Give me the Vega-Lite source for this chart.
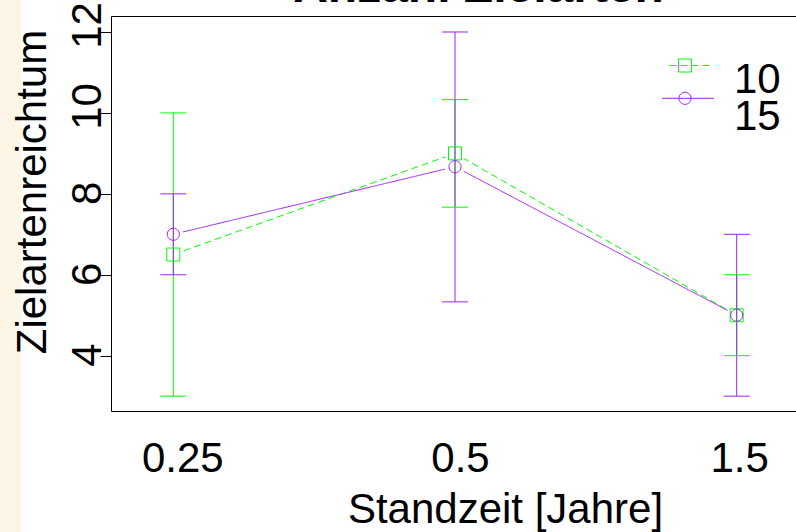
{
  "$schema": "https://vega.github.io/schema/vega-lite/v6.json",
  "width": 796,
  "height": 532,
  "autosize": {"type": "none"},
  "padding": 0,
  "background": "white",
  "data": {"values": [
    {"t": "0.25", "grp": "10", "mean": 6.5, "lo": 3, "hi": 10},
    {"t": "0.5", "grp": "10", "mean": 9, "lo": 7.67, "hi": 10.33},
    {"t": "1.5", "grp": "10", "mean": 5, "lo": 4, "hi": 6},
    {"t": "0.25", "grp": "15", "mean": 7, "lo": 6, "hi": 8},
    {"t": "0.5", "grp": "15", "mean": 8.67, "lo": 5.33, "hi": 12},
    {"t": "1.5", "grp": "15", "mean": 5, "lo": 3, "hi": 7}
  ]},
  "layer": [
    {
      "layer": [
        {
          "mark": {"type": "line", "strokeWidth": 1},
          "encoding": {
            "x": {"field": "t", "type": "ordinal", "scale": {"type": "point", "domain": ["0.25", "0.5", "1.5"], "range": [111, 799], "padding": 0.2212},
              "axis": {"orient": "bottom", "offset": -121, "title": "Standzeit [Jahre]", "titleFont": "Liberation Sans", "titleFontSize": 42, "titleFontWeight": "normal", "titleColor": "black", "titleX": 505, "titleY": 111, "titleAlign": "center", "titleBaseline": "alphabetic", "titleAngle": 0,
                "labelFont": "Liberation Sans", "labelFontSize": 42, "labelColor": "black", "labelAngle": 0, "labelAlign": "center", "labelBaseline": "alphabetic", "labelPadding": 60, "ticks": false, "tickSize": 0, "domainColor": "black", "domainWidth": 1, "grid": false, "labelOverlap": false,
                "encoding": {"labels": {"dx": {"value": {"expr": "datum.label == '0.25' ? 9 : datum.label == '0.5' ? 5 : 2.5"}}}}}},
            "y": {"field": "mean", "type": "quantitative", "title": "Zielartenreichtum", "scale": {"domain": [2.633, 12.395], "range": [411, 16], "nice": false, "zero": false},
              "axis": {"orient": "left", "offset": -111, "values": [4, 6, 8, 10, 12], "format": "d", "titleFont": "Liberation Sans", "titleFontSize": 42, "titleFontWeight": "normal", "titleColor": "black", "titleX": -66, "titleY": 191.5, "titleAngle": 270, "titleAlign": "center", "titleBaseline": "alphabetic",
                "labelFont": "Liberation Sans", "labelFontSize": 42, "labelColor": "black", "labelAngle": 270, "labelAlign": "center", "labelBaseline": "alphabetic", "labelPadding": 0, "tickSize": 11, "tickColor": "black", "tickWidth": 1, "domainColor": "black", "domainWidth": 1, "grid": false, "labelOverlap": false, "labelFlush": false,
                "encoding": {"labels": {"dx": {"value": {"expr": "length(datum.label) > 1 ? 7 : 1"}}}}}},
            "color": {"field": "grp", "type": "nominal", "scale": {"domain": ["10", "15"], "range": ["#00ff00", "#a020f0"]}, "legend": null},
            "strokeDash": {"field": "grp", "type": "nominal", "scale": {"domain": ["10", "15"], "range": [[7, 4], [1, 0]]}, "legend": null}
          }
        },
        {
          "mark": {"type": "point", "shape": "circle", "filled": true, "fill": "white", "strokeWidth": 0, "size": 420, "opacity": 1},
          "encoding": {
            "x": {"field": "t", "type": "ordinal", "scale": {"type": "point", "domain": ["0.25", "0.5", "1.5"], "range": [111, 799], "padding": 0.2212}},
            "y": {"field": "mean", "type": "quantitative", "title": "Zielartenreichtum", "scale": {"domain": [2.633, 12.395], "range": [411, 16], "nice": false, "zero": false}}
          }
        },
        {
          "mark": {"type": "rule", "strokeWidth": 1},
          "encoding": {
            "x": {"field": "t", "type": "ordinal", "scale": {"type": "point", "domain": ["0.25", "0.5", "1.5"], "range": [111, 799], "padding": 0.2212}},
            "y": {"field": "lo", "type": "quantitative", "title": "Zielartenreichtum", "scale": {"domain": [2.633, 12.395], "range": [411, 16], "nice": false, "zero": false}},
            "y2": {"field": "hi"},
            "color": {"field": "grp", "type": "nominal", "scale": {"domain": ["10", "15"], "range": ["#00ff00", "#a020f0"]}, "legend": null}
          }
        },
        {
          "mark": {"type": "tick", "size": 26, "thickness": 1, "opacity": 1},
          "encoding": {
            "x": {"field": "t", "type": "ordinal", "scale": {"type": "point", "domain": ["0.25", "0.5", "1.5"], "range": [111, 799], "padding": 0.2212}},
            "y": {"field": "lo", "type": "quantitative", "title": "Zielartenreichtum", "scale": {"domain": [2.633, 12.395], "range": [411, 16], "nice": false, "zero": false}},
            "color": {"field": "grp", "type": "nominal", "scale": {"domain": ["10", "15"], "range": ["#00ff00", "#a020f0"]}, "legend": null}
          }
        },
        {
          "mark": {"type": "tick", "size": 26, "thickness": 1, "opacity": 1},
          "encoding": {
            "x": {"field": "t", "type": "ordinal", "scale": {"type": "point", "domain": ["0.25", "0.5", "1.5"], "range": [111, 799], "padding": 0.2212}},
            "y": {"field": "hi", "type": "quantitative", "title": "Zielartenreichtum", "scale": {"domain": [2.633, 12.395], "range": [411, 16], "nice": false, "zero": false}},
            "color": {"field": "grp", "type": "nominal", "scale": {"domain": ["10", "15"], "range": ["#00ff00", "#a020f0"]}, "legend": null}
          }
        },
        {
          "mark": {"type": "point", "filled": false, "strokeWidth": 1, "size": 169, "opacity": 1},
          "encoding": {
            "x": {"field": "t", "type": "ordinal", "scale": {"type": "point", "domain": ["0.25", "0.5", "1.5"], "range": [111, 799], "padding": 0.2212}},
            "y": {"field": "mean", "type": "quantitative", "title": "Zielartenreichtum", "scale": {"domain": [2.633, 12.395], "range": [411, 16], "nice": false, "zero": false}},
            "color": {"field": "grp", "type": "nominal", "scale": {"domain": ["10", "15"], "range": ["#00ff00", "#a020f0"]}, "legend": null},
            "shape": {"field": "grp", "type": "nominal", "scale": {"domain": ["10", "15"], "range": ["M-1,-1H1V1H-1Z", "M-0.93,0A0.93,0.93 0 1,0 0.93,0A0.93,0.93 0 1,0 -0.93,0Z"]}, "legend": null}
          }
        }
      ]
    },
    {
      "transform": [{"filter": "false"}],
      "mark": {"type": "point", "filled": false, "strokeWidth": 1, "size": 169, "opacity": 1},
      "encoding": {
        "x": {"field": "t", "type": "ordinal", "scale": {"type": "point", "domain": ["0.25", "0.5", "1.5"], "range": [111, 799], "padding": 0.2212},
          "axis": {"orient": "top", "offset": -16, "labels": false, "ticks": false, "domainColor": "black", "domainWidth": 1, "grid": false,
            "title": "Anzahl Zielarten", "titleFont": "Liberation Sans", "titleFontSize": 48, "titleFontWeight": "bold", "titleColor": "black", "titleX": 478, "titleY": -15, "titleAlign": "center", "titleBaseline": "alphabetic", "titleAngle": 0}},
        "color": {"field": "grp", "type": "nominal", "scale": {"domain": ["10"], "range": ["#00ff00"]},
          "legend": {"title": null, "orient": "none", "legendX": 664, "legendY": 59.4, "padding": 0, "symbolSize": 169, "symbolStrokeWidth": 1, "labelFont": "Liberation Sans", "labelFontSize": 42, "labelColor": "black", "labelOffset": 28, "labelBaseline": "middle"}},
        "shape": {"field": "grp", "type": "nominal", "scale": {"domain": ["10"], "range": ["M-2.38,-2.29H-1.31M-0.69,-2.29H0.38M1,-2.29H2.08M2.69,-2.29H3.77M-1,-3.29H1V-1.29H-1Z"]},
          "legend": {"title": null, "orient": "none", "legendX": 664, "legendY": 59.4, "padding": 0, "symbolSize": 169, "symbolStrokeWidth": 1, "labelFont": "Liberation Sans", "labelFontSize": 42, "labelColor": "black", "labelOffset": 28, "labelBaseline": "middle"}}
      }
    },
    {
      "transform": [{"filter": "false"}],
      "mark": {"type": "point", "filled": false, "strokeWidth": 1, "size": 169, "opacity": 1},
      "encoding": {
        "x": {"field": "t", "type": "ordinal", "scale": {"type": "point", "domain": ["0.25", "0.5", "1.5"], "range": [111, 799], "padding": 0.2212}, "axis": null},
        "color": {"field": "grp", "type": "nominal", "scale": {"domain": ["15"], "range": ["#a020f0"]},
          "legend": {"title": null, "orient": "none", "legendX": 664, "legendY": 96.4, "padding": 0, "symbolSize": 169, "symbolStrokeWidth": 1, "labelFont": "Liberation Sans", "labelFontSize": 42, "labelColor": "black", "labelOffset": 28, "labelBaseline": "middle"}},
        "shape": {"field": "grp", "type": "nominal", "scale": {"domain": ["15"], "range": ["M-3.54,-2.94H4.46M-0.93,-2.94A0.93,0.93 0 1,0 0.93,-2.94A0.93,0.93 0 1,0 -0.93,-2.94Z"]},
          "legend": {"title": null, "orient": "none", "legendX": 664, "legendY": 96.4, "padding": 0, "symbolSize": 169, "symbolStrokeWidth": 1, "labelFont": "Liberation Sans", "labelFontSize": 42, "labelColor": "black", "labelOffset": 28, "labelBaseline": "middle"}}
      }
    }
  ],
  "resolve": {"axis": {"x": "independent"}, "scale": {"color": "independent", "shape": "independent"}},
  "config": {
    "font": "Liberation Sans",
    "view": {"stroke": null, "fill": {"gradient": "linear", "x1": 0, "y1": 0, "x2": 1, "y2": 0, "stops": [{"offset": 0, "color": "#fdf5e6"}, {"offset": 0.0264, "color": "#fdf5e6"}, {"offset": 0.0264, "color": "#ffffff"}, {"offset": 1, "color": "#ffffff"}]}}
  }
}
